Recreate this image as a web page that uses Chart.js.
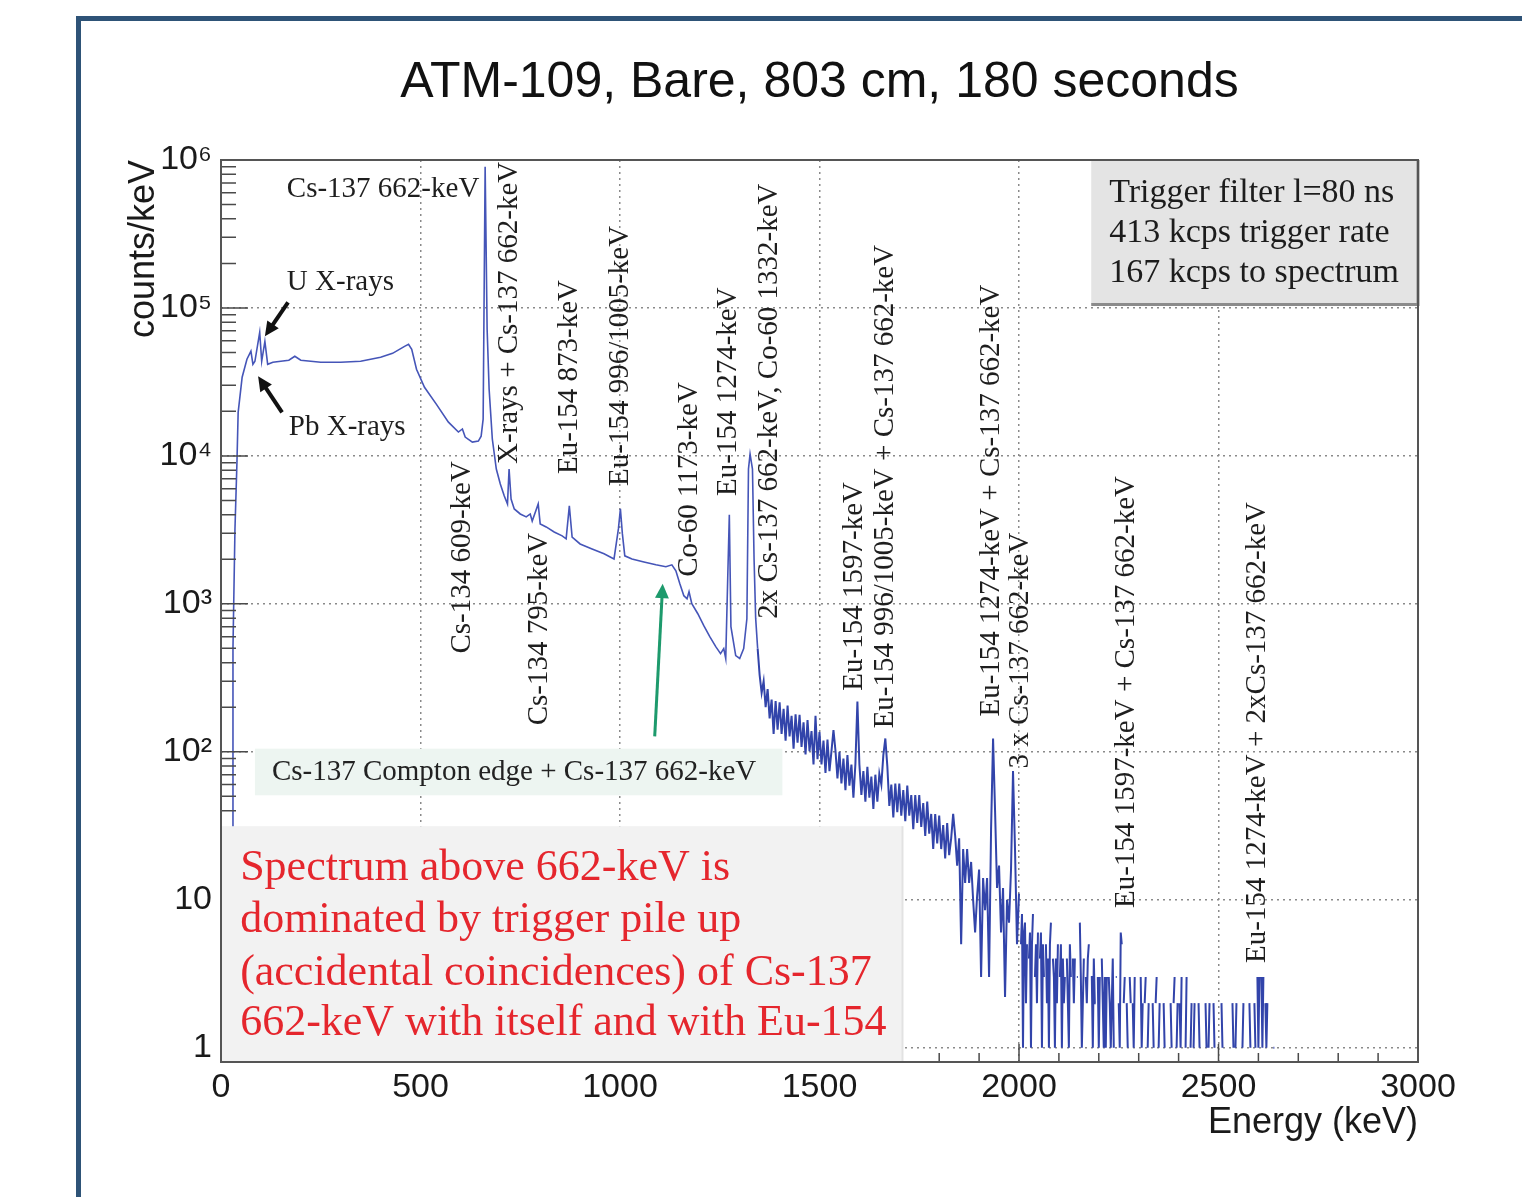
<!DOCTYPE html>
<html>
<head>
<meta charset="utf-8">
<title>ATM-109 spectrum</title>
<script src="https://cdn.jsdelivr.net/npm/chart.js@4.4.1/dist/chart.umd.min.js"></script>
<style>
  html, body { margin: 0; padding: 0; background: #fff; }
  body { width: 1522px; height: 1197px; overflow: hidden; position: relative; }
  .frame { position: absolute; left: 76px; top: 16px; width: 1600px; height: 1400px;
           border: 5px solid #2e5377; box-sizing: border-box; }
  #spectrum { position: absolute; left: 0; top: 0; }
</style>
</head>
<body>
<div class="frame"></div>
<canvas id="spectrum" width="1522" height="1197"></canvas>
<script>
// spectrum: smooth part, explicit points (keV, counts/keV)
const smoothEnergyKeV = [24, 28, 30, 35, 40, 43, 53, 65, 75, 80, 85, 97, 102, 110, 117, 130, 150, 170, 185, 200,
  250, 300, 350, 400, 430, 460, 470, 478, 490, 510, 540, 570, 595, 605, 612, 630, 645, 652, 657, 662,
  667, 672, 680, 690, 700, 710, 718, 722, 727, 735, 750, 765, 775, 780, 795, 800, 815, 835, 855, 865,
  873, 880, 900, 930, 960, 985, 996, 1001, 1006, 1012, 1030, 1060, 1090, 1115, 1130, 1140, 1150, 1160, 1168, 1173,
  1180, 1195, 1210, 1225, 1240, 1252, 1260, 1265, 1270, 1274, 1278, 1290, 1300, 1310, 1318, 1322, 1326, 1332, 1336, 1340, 1345];
const smoothCounts = [0, 30, 500, 3200, 9100, 19700, 34000, 45000, 51000, 41600, 43600, 68400, 43600, 59400, 41600, 42900, 43600, 44300, 47100, 44300,
  42900, 42900, 43600, 46400, 49300, 55000, 56700, 52500, 38500, 29100, 22300, 16900, 14500, 15200, 13400, 12400, 12600, 13600, 17700, 900000,
  71600, 28200, 13000, 8150, 6450, 5360, 4730, 8150, 5110, 4380, 4050, 3870, 4050, 3630, 4730, 3470, 3310, 3060, 2880, 2750,
  4590, 2830, 2540, 2350, 2180, 2010, 3210, 4380, 2970, 2110, 2010, 1920, 1835, 1780, 1835, 1670, 1365, 1135, 1082, 1207,
  1002, 857, 712, 600, 514, 461, 498, 427, 1500, 4000, 700, 447, 427, 498, 793, 8150, 10300, 8150, 2010, 800, 498];

// pile-up region, one value every 5 keV from 1350 keV
const noisyStartKeV = 1350;
const noisyStepKeV = 5;
const noisyCounts = [
  330, 250, 300, 200, 265,  168, 225, 132, 220, 141,  216, 132, 195, 119, 205,  127, 175, 105, 179, 115,
  178, 108, 158, 96, 164,   101, 138, 82, 175, 89,    136, 82, 119, 72, 121,    74, 101, 140, 102, 66,
  100, 61, 90, 55, 95,      59, 82, 49, 83, 219,      82, 51, 74, 46, 79,       49, 68, 41, 70, 46,
  71, 60, 95, 123, 80,      43, 60, 36, 61, 39,       61, 37, 55, 34, 59,       37, 51, 30, 51, 33,
  51, 31, 45, 27, 46,       28, 38, 22, 38, 24,       37, 22, 32, 19, 33,       20, 26, 38, 27, 17,
  26, 5, 22, 13, 22,        13, 18, 10, 6, 10.6,      16, 3, 14, 8.5, 14,       3, 30, 123, 40, 12,
  17, 6, 12, 2.2, 10,       7, 16, 74, 22, 5];

// high-energy tail, one value every 2.5 keV from 2000 keV (0 = empty bin)
const tailStartKeV = 2000;
const tailStepKeV = 2.5;
const tailCounts = [
  11, 0, 5, 8, 1, 6, 7, 2, 5, 0,   4, 6, 1, 5, 8, 0, 3, 5, 2, 6,
  0, 4, 6, 1, 5, 3, 0, 5, 2, 4,    1, 5, 7, 0, 4, 3, 1, 4, 2, 5,
  0, 3, 5, 1, 4, 2, 3, 0, 4, 2,    1, 5, 3, 0, 4, 2, 4, 0, 3, 3,
  0, 7, 3, 1, 2, 4, 0, 3, 2, 4,    5, 0, 3, 3, 1, 4, 2, 2, 0, 3,
  1, 3, 0, 4, 2, 1, 3, 1, 3, 0,    3, 2, 1, 2, 4, 1, 0, 3, 3, 0,
  2, 1, 6, 5, 0, 2, 3, 0, 2, 1,    0, 3, 2, 0, 2, 1, 3, 0, 2, 0,
  2, 0, 3, 1, 2, 0, 2, 3, 0, 1,    2, 0, 3, 0, 2, 1, 0, 2, 3, 0,
  1, 2, 0, 3, 0, 2, 1, 0, 2, 0,    3, 0, 2, 1, 0, 2, 3, 0, 1, 2,
  0, 2, 1, 3, 0, 2, 0, 1, 3, 0,    2, 0, 1, 2, 0, 1, 2, 0, 1, 0,
  2, 1, 0, 2, 0, 1, 0, 2, 1, 0,    1, 2, 0, 1, 0, 2, 1, 0, 1, 0,
  0, 1, 0, 2, 1, 0, 1, 0, 2, 0,    1, 0, 1, 0, 2, 1, 0, 1, 2, 0,
  1, 0, 1, 0, 1, 2, 0, 1, 0, 1,    0, 2, 1, 0, 1, 0, 2, 1, 0, 3,
  1, 3, 0, 3, 1, 3, 0, 2, 1, 2,    0, 1, 0, 1, 0, 1, 1, 0, 1, 0,
  1, 0, 1, 0, 0, 1, 0, 1, 0, 1,    0, 1, 0, 0, 1, 0, 1, 0, 0, 1];

// last part, one value every 5 keV from 2700 keV
const endStartKeV = 2700;
const endStepKeV = 5;
const endCounts = [
  0, 0, 1, 0, 1, 0, 0, 1, 0, 0,   1, 0, 0, 1, 0, 0, 0, 1, 0, 0,
  0, 1, 0, 0, 0, 1, 0, 0, 1, 0,   0, 0, 0, 1, 0, 0, 1, 0, 0, 0,
  0, 1, 0, 0, 1, 0, 0, 0, 1, 0,   0, 0, 1, 0, 0, 1, 0, 0, 0, 0];

const energyTicks = [0, 500, 1000, 1500, 2000, 2500, 3000];
const countDecades = [1, 10, 100, 1000, 10000, 100000, 1000000];
const decadeLabels = ['1', '10', '10²', '10³', '10⁴', '10⁵', '10⁶'];

// peak labels, anchored at (keV, counts/keV) of the text start
const peakLabels = [
  { text: 'Cs-134 609-keV', keV: 606, counts: 461 },
  { text: 'X-rays + Cs-137 662-keV', keV: 724, counts: 8810 },
  { text: 'Cs-134 795-keV', keV: 799, counts: 151 },
  { text: 'Eu-154 873-keV', keV: 874, counts: 7540 },
  { text: 'Eu-154 996/1005-keV', keV: 1002, counts: 6260 },
  { text: 'Co-60 1173-keV', keV: 1175, counts: 1523 },
  { text: 'Eu-154 1274-keV', keV: 1272, counts: 5360 },
  { text: '2x Cs-137 662-keV, Co-60 1332-keV', keV: 1375, counts: 793 },
  { text: 'Eu-154 1597-keV', keV: 1588, counts: 259 },
  { text: 'Eu-154 996/1005-keV + Cs-137 662-keV', keV: 1665, counts: 144 },
  { text: 'Eu-154 1274-keV + Cs-137 662-keV', keV: 1931, counts: 173 },
  { text: '3 x Cs-137 662-keV', keV: 2003, counts: 77 },
  { text: 'Eu-154 1597-keV + Cs-137 662-keV', keV: 2269, counts: 8.8 },
  { text: 'Eu-154 1274-keV + 2xCs-137 662-keV', keV: 2597, counts: 3.74 }
];
const flatLabels = [
  { text: 'Cs-137 662-keV', keV: 165, counts: 630000 },
  { text: 'U X-rays', keV: 165, counts: 148600 },
  { text: 'Pb X-rays', keV: 170, counts: 15600 }
];
const infoLines = ['Trigger filter l=80 ns', '413 kcps trigger rate', '167 kcps to spectrum'];
const comptonText = 'Cs-137 Compton edge + Cs-137 662-keV';
const noteLines = ['Spectrum above 662-keV is', 'dominated by trigger pile up',
  '(accidental coincidences) of Cs-137', '662-keV with itself and with Eu-154'];

const SANS = '"Liberation Sans", Arial, Helvetica, sans-serif';
const SERIF = '"Liberation Serif", "Times New Roman", Times, serif';

const smoothPoints = smoothEnergyKeV.map((e, i) => ({ x: e, y: smoothCounts[i] }));
const noisyPoints = [smoothPoints[smoothPoints.length - 1]];
noisyCounts.forEach((c, i) => noisyPoints.push({ x: noisyStartKeV + i * noisyStepKeV, y: c }));
tailCounts.forEach((c, i) => noisyPoints.push({ x: tailStartKeV + i * tailStepKeV, y: c }));
endCounts.forEach((c, i) => noisyPoints.push({ x: endStartKeV + i * endStepKeV, y: c }));

function arrow(ctx, x0, y0, x1, y1, color, width, head) {
  const ang = Math.atan2(y1 - y0, x1 - x0);
  ctx.strokeStyle = color;
  ctx.fillStyle = color;
  ctx.lineWidth = width;
  ctx.beginPath();
  ctx.moveTo(x0, y0);
  ctx.lineTo(x1 - Math.cos(ang) * head * 0.6, y1 - Math.sin(ang) * head * 0.6);
  ctx.stroke();
  ctx.beginPath();
  ctx.moveTo(x1, y1);
  ctx.lineTo(x1 - head * Math.cos(ang - 0.45), y1 - head * Math.sin(ang - 0.45));
  ctx.lineTo(x1 - head * Math.cos(ang + 0.45), y1 - head * Math.sin(ang + 0.45));
  ctx.closePath();
  ctx.fill();
}

// ticks, boxes, labels and frame on top of the spectrum
const overlay = {
  id: 'overlay',
  afterDraw(chart) {
    const { ctx, chartArea: a } = chart;
    const xs = chart.scales.x, ys = chart.scales.y;
    const X = e => xs.getPixelForValue(e);
    const Y = v => ys.getPixelForValue(v);
    ctx.save();

    // ROOT style ticks inside the frame
    ctx.strokeStyle = '#4a4a4a';
    ctx.lineWidth = 1.5;
    ctx.beginPath();
    for (let d = 1; d < 1e6; d *= 10) {
      for (let k = 1; k < 10; k++) {
        const yy = Y(d * k);
        ctx.moveTo(a.left, yy);
        ctx.lineTo(a.left + (k === 1 ? 27 : 15), yy);
      }
    }
    for (let e = 100; e < 3000; e += 100) {
      const xx = X(e);
      ctx.moveTo(xx, a.bottom);
      ctx.lineTo(xx, a.bottom - (e % 500 === 0 ? 18 : 9));
    }
    ctx.stroke();

    // trigger info box
    const bx0 = X(2181), by0 = Y(1e6), by1 = Y(105600);
    ctx.fillStyle = '#e4e4e4';
    ctx.fillRect(bx0, by0, a.right - bx0, by1 - by0);
    ctx.strokeStyle = '#8c8c8c';
    ctx.lineWidth = 3;
    ctx.beginPath();
    ctx.moveTo(a.right, by0);
    ctx.lineTo(a.right, by1);
    ctx.lineTo(bx0, by1);
    ctx.stroke();
    ctx.fillStyle = '#1c1c1c';
    ctx.font = '34px ' + SERIF;
    ctx.textAlign = 'left';
    ctx.textBaseline = 'middle';
    infoLines.forEach((t, i) => ctx.fillText(t, X(2226), by0 + 33 + i * 40));

    // Compton edge box
    const cx0 = X(85), cx1 = X(1407), cy0 = Y(105), cy1 = Y(50.8);
    ctx.fillStyle = '#edf5f1';
    ctx.fillRect(cx0, cy0, cx1 - cx0, cy1 - cy0);
    ctx.fillStyle = '#222';
    ctx.font = '29px ' + SERIF;
    ctx.fillText(comptonText, cx0 + 17, (cy0 + cy1) / 2);

    // pile-up note box
    const rx0 = X(2.5), rx1 = X(1708), ry0 = Y(31.4);
    ctx.fillStyle = '#f2f2f2';
    ctx.fillRect(rx0, ry0, rx1 - rx0, a.bottom - ry0);
    ctx.strokeStyle = '#e2e2e2';
    ctx.lineWidth = 2;
    ctx.beginPath();
    ctx.moveTo(rx1, ry0);
    ctx.lineTo(rx1, a.bottom);
    ctx.stroke();
    ctx.fillStyle = '#e5262d';
    ctx.font = '44px ' + SERIF;
    const noteOffsets = [42, 94, 147, 197];
    noteLines.forEach((t, i) => ctx.fillText(t, X(48), ry0 + noteOffsets[i]));

    // frame
    ctx.strokeStyle = '#555';
    ctx.lineWidth = 2;
    ctx.strokeRect(a.left, a.top, a.right - a.left, a.bottom - a.top);

    // arrows
    arrow(ctx, X(168), Y(109000), X(110), Y(64300), '#111', 4, 16);
    arrow(ctx, X(153), Y(19700), X(93), Y(34500), '#111', 4, 16);
    arrow(ctx, X(1087), Y(127), X(1107), Y(1367), '#1d9a6c', 3, 16);

    // labels
    ctx.fillStyle = '#1e1e1e';
    ctx.font = '29px ' + SERIF;
    flatLabels.forEach(l => ctx.fillText(l.text, X(l.keV), Y(l.counts)));
    peakLabels.forEach(l => {
      ctx.save();
      ctx.translate(X(l.keV), Y(l.counts));
      ctx.rotate(-Math.PI / 2);
      ctx.fillText(l.text, 0, 0);
      ctx.restore();
    });
    ctx.restore();
  }
};

new Chart(document.getElementById('spectrum'), {
  type: 'line',
  data: {
    datasets: [{
      data: smoothPoints,
      borderColor: '#4555b8',
      borderWidth: 1.6,
      pointRadius: 0,
      tension: 0,
      fill: false
    }, {
      data: noisyPoints,
      borderColor: '#3244aa',
      borderWidth: 2,
      pointRadius: 0,
      tension: 0,
      fill: false
    }]
  },
  options: {
    responsive: false,
    animation: false,
    events: [],
    layout: { padding: { left: 0, right: 104, top: 0, bottom: 0 } },
    plugins: {
      legend: { display: false },
      tooltip: { enabled: false },
      title: {
        display: true,
        text: 'ATM-109, Bare, 803 cm, 180 seconds',
        fullSize: false,
        color: '#111',
        font: { family: SANS, size: 50, weight: 'normal' },
        padding: { top: 53, bottom: 47 }
      }
    },
    scales: {
      x: {
        type: 'linear',
        min: 0,
        max: 3000,
        afterFit: s => { s.height = 135; },
        afterBuildTicks: s => { s.ticks = energyTicks.map(v => ({ value: v })); },
        ticks: {
          padding: 5, maxRotation: 0, autoSkip: false, color: '#1a1a1a',
          font: { family: SANS, size: 34 },
          callback: v => String(v)
        },
        grid: { color: '#8a8a8a', lineWidth: 1.5, drawTicks: false },
        border: { display: false, dash: [2, 4] },
        title: {
          display: true, text: 'Energy (keV)', align: 'end', color: '#1a1a1a',
          font: { family: SANS, size: 36 }, padding: { top: 0, bottom: 52 }
        }
      },
      y: {
        type: 'logarithmic',
        min: 0.8,
        max: 1e6,
        afterFit: s => { s.width = 221; },
        afterBuildTicks: s => { s.ticks = countDecades.map(v => ({ value: v })); },
        ticks: {
          padding: 9,
          color: '#1a1a1a',
          font: { family: SANS, size: 34 },
          callback: v => { const i = countDecades.indexOf(v); return i < 0 ? '' : decadeLabels[i]; }
        },
        grid: { color: '#8a8a8a', lineWidth: 1.5, drawTicks: false },
        border: { display: false, dash: [2, 4] },
        title: {
          display: true, text: 'counts/keV', align: 'end', color: '#1a1a1a',
          font: { family: SANS, size: 36 }, padding: { top: 122, bottom: 0 }
        }
      }
    }
  },
  plugins: [overlay]
});
</script>
</body>
</html>
